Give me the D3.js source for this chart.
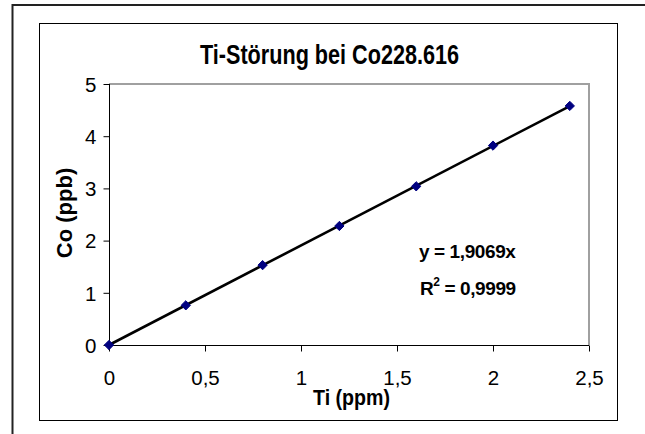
<!DOCTYPE html>
<html>
<head>
<meta charset="utf-8">
<script src="https://cdn.jsdelivr.net/npm/d3@7"></script>
<style>
  body { margin: 0; background: #fff; }
  text { font-family: "Liberation Sans", Arial, sans-serif; }
</style>
</head>
<body>
<svg id="chart" width="645" height="434"></svg>
<script>
// Measured values (Ti in ppm, Co in ppb)
const tiValues = [0, 0.4, 0.8, 1.2, 1.6, 2.0, 2.4];
const coValues = [0, 0.76, 1.53, 2.28, 3.04, 3.82, 4.58];
const xTicks = [0, 0.5, 1, 1.5, 2, 2.5];
const yTicks = [0, 1, 2, 3, 4, 5];
const trendSlope = 1.9069;
const trendRange = [0, 2.4];
const titleText = "Ti-Störung bei Co228.616";
const xLabelText = "Ti (ppm)";
const yLabelText = "Co (ppb)";

const svg = d3.select("#chart");
const fmt = d => String(d).replace(".", ",");

// outer frame (cut off at right and bottom)
svg.append("rect")
    .attr("x", 12.5).attr("y", 5)
    .attr("width", 700).attr("height", 500)
    .attr("fill", "none")
    .attr("stroke", "#222")
    .attr("stroke-width", 2);

// chart area frame
svg.append("rect")
    .attr("x", 39.5).attr("y", 23.5)
    .attr("width", 578).attr("height", 397)
    .attr("fill", "#fff")
    .attr("stroke", "#000")
    .attr("stroke-width", 1);

const x = d3.scaleLinear().domain([0, 2.5]).range([109, 589]);
const y = d3.scaleLinear().domain([0, 5]).range([345, 84]);

// plot area: gray top and right border
svg.append("path")
    .attr("d", `M${x(0)},${y(5)}H${x(2.5)}V${y(0)}`)
    .attr("fill", "none")
    .attr("stroke", "#a0a0a0")
    .attr("stroke-width", 2);

// y axis
const yAxis = svg.append("g")
    .attr("transform", `translate(${x(0) + 0.5},0)`)
    .call(d3.axisLeft(y).tickValues(yTicks).tickSize(6).tickPadding(7).tickFormat(fmt));
yAxis.select(".domain").attr("d", `M0,${y(5)}V${y(0)}`);

// x axis
const xAxis = svg.append("g")
    .attr("transform", `translate(0,${y(0) + 0.5})`)
    .call(d3.axisBottom(x).tickValues(xTicks).tickSize(6).tickPadding(19).tickFormat(fmt));
xAxis.select(".domain").attr("d", `M${x(0)},0H${x(2.5)}`);

svg.selectAll(".tick text")
    .attr("font-family", "'Liberation Sans', Arial, sans-serif")
    .attr("font-size", 20.5)
    .attr("fill", "#000");
yAxis.selectAll(".tick text").attr("dy", "0.36em");
svg.selectAll(".tick line, .domain").attr("stroke", "#000");

// trendline
svg.append("line")
    .attr("x1", x(trendRange[0])).attr("y1", y(trendSlope * trendRange[0]))
    .attr("x2", x(trendRange[1])).attr("y2", y(trendSlope * trendRange[1]))
    .attr("stroke", "#000")
    .attr("stroke-width", 2.6);

// markers
const diamond = d3.symbol().type(d3.symbolDiamond2).size(55);
svg.append("g").selectAll("path")
    .data(tiValues.map((t, i) => [t, coValues[i]]))
    .join("path")
    .attr("d", diamond)
    .attr("transform", d => `translate(${x(d[0])},${y(d[1])})`)
    .attr("fill", "#000080")
    .attr("stroke", "#000080")
    .attr("stroke-width", 1);

// title
svg.append("text")
    .attr("x", 200).attr("y", 64)
    .attr("font-size", 27)
    .attr("font-weight", "bold")
    .attr("textLength", 259)
    .attr("lengthAdjust", "spacingAndGlyphs")
    .text(titleText);

// axis titles
svg.append("text")
    .attr("x", 313).attr("y", 405)
    .attr("font-size", 22)
    .attr("font-weight", "bold")
    .attr("textLength", 77)
    .attr("lengthAdjust", "spacingAndGlyphs")
    .text(xLabelText);

svg.append("text")
    .attr("transform", "translate(72,213) rotate(-90)")
    .attr("text-anchor", "middle")
    .attr("font-size", 22)
    .attr("font-weight", "bold")
    .text(yLabelText);

// trendline equation
svg.append("text")
    .attr("x", 419).attr("y", 258)
    .attr("font-size", 19)
    .attr("font-weight", "bold")
    .attr("letter-spacing", -0.4)
    .text("y = " + fmt(trendSlope) + "x");

const r2 = svg.append("text")
    .attr("x", 420).attr("y", 295)
    .attr("font-size", 19)
    .attr("font-weight", "bold")
    .attr("letter-spacing", -0.4);
r2.append("tspan").text("R");
r2.append("tspan").attr("font-size", 12).attr("dy", -9).text("2");
r2.append("tspan").attr("dy", 9).text(" = 0,9999");
</script>
</body>
</html>
